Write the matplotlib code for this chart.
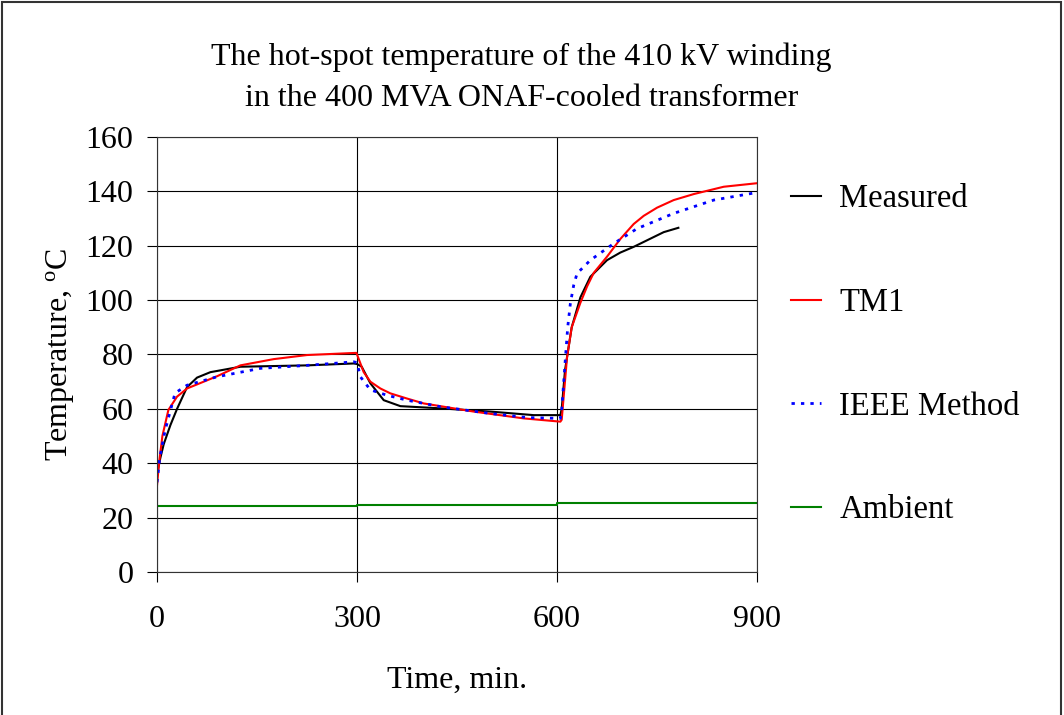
import matplotlib.pyplot as plt
from matplotlib.patches import Rectangle

plt.rcParams['font.family'] = 'Liberation Serif'
plt.rcParams['mathtext.fontset'] = 'custom'
plt.rcParams['mathtext.rm'] = 'Liberation Serif'

# measured hot-spot temperature (stops around 780 min)
meas_t = [0, 5, 10, 20, 30, 45, 60, 80, 125, 225, 295, 300, 307, 320, 340, 365, 425, 500, 565, 605,
          607, 612, 622, 635, 650, 675, 695, 715, 735, 760, 782]
meas_T = [36, 42, 47, 54, 60, 68, 71.5, 73.5, 75.5, 76, 76.7, 76.5, 75.5, 69.4, 63.2, 61, 60.2, 59, 57.7, 57.7,
          60, 74.3, 90, 101, 108.6, 114.7, 117.5, 119.6, 122, 125, 126.6]

tm1_t = [0, 3, 8, 17, 30, 45, 90, 125, 175, 225, 299, 300, 310, 320, 335, 350, 375, 400, 475, 550, 605,
         607, 615, 622, 635, 645, 655, 675, 695, 715, 730, 750, 775, 805, 850, 900]
tm1_T = [32, 40, 50, 59.6, 64.5, 67.5, 72, 76, 78.3, 79.8, 80.6, 80, 73.5, 70, 67.5, 65.7, 63.8, 62, 59, 56.5, 55.3,
         56, 79, 90, 99, 105, 110, 116, 122.5, 128, 131, 134, 136.8, 139, 141.7, 143]

ieee_t = [0, 4, 12, 27, 45, 90, 155, 225, 295, 300, 305, 320, 345, 375, 425, 500, 555, 605,
          607, 612, 616, 620, 625, 630, 650, 685, 720, 775, 835, 900]
ieee_T = [33, 42, 52, 65.8, 68.7, 71.8, 74.9, 76, 77.3, 77, 71.8, 67, 65, 63.2, 60.8, 58.3, 56.8, 56.5,
          59.6, 76.7, 90, 98.8, 105.5, 109.8, 114.7, 120.8, 126.3, 131.9, 136.8, 139.6]

amb_t = [0, 300, 300, 600, 600, 900]
amb_T = [24.3, 24.3, 24.8, 24.8, 25.3, 25.3]

fig = plt.figure(figsize=(10.64, 7.15), dpi=100)
ax = fig.add_axes([0.1476, 0.2, 0.5639, 0.6084])

ax.plot(meas_t, meas_T, color='black', lw=1.5, label='Measured')
ax.plot(tm1_t, tm1_T, color='red', lw=1.5, label='TM1')
ax.plot(ieee_t, ieee_T, color='blue', lw=2, linestyle=(0, (1.2, 2.2)), label='IEEE Method')
ax.plot(amb_t, amb_T, color='green', lw=1.5, label='Ambient')

ax.set_xlim(0, 900)
ax.set_ylim(0, 160)
ax.set_xticks([0, 300, 600, 900])
ax.set_yticks(range(0, 161, 20))
ax.grid(True, color='black', lw=0.8)
for s in ax.spines.values():
    s.set_color('#333333')
    s.set_linewidth(0.8)
ax.tick_params(axis='y', labelsize=23, length=7, width=0.8, pad=10)
ax.tick_params(axis='x', labelsize=23, length=7, width=0.8, pad=17)

ax.set_xlabel('Time, min.', fontsize=23, labelpad=23)
ax.set_ylabel(r'Temperature, $\mathregular{^o}$C', fontsize=23, labelpad=7)
fig.text(0.49, 0.941, 'The hot-spot temperature of the 410 kV winding\nin the 400 MVA ONAF-cooled transformer',
         fontsize=23, ha='center', va='top', linespacing=1.55)

ax.legend(loc='center left', bbox_to_anchor=(1.008, 0.5), frameon=False, fontsize=23.5,
          handlelength=0.92, handletextpad=0.55, labelspacing=2.24)

fig.patches.append(Rectangle((0.002, -0.01), 0.995, 1.007, transform=fig.transFigure,
                             fill=False, edgecolor='#333333', lw=1.5))

fig.savefig('out.png')
